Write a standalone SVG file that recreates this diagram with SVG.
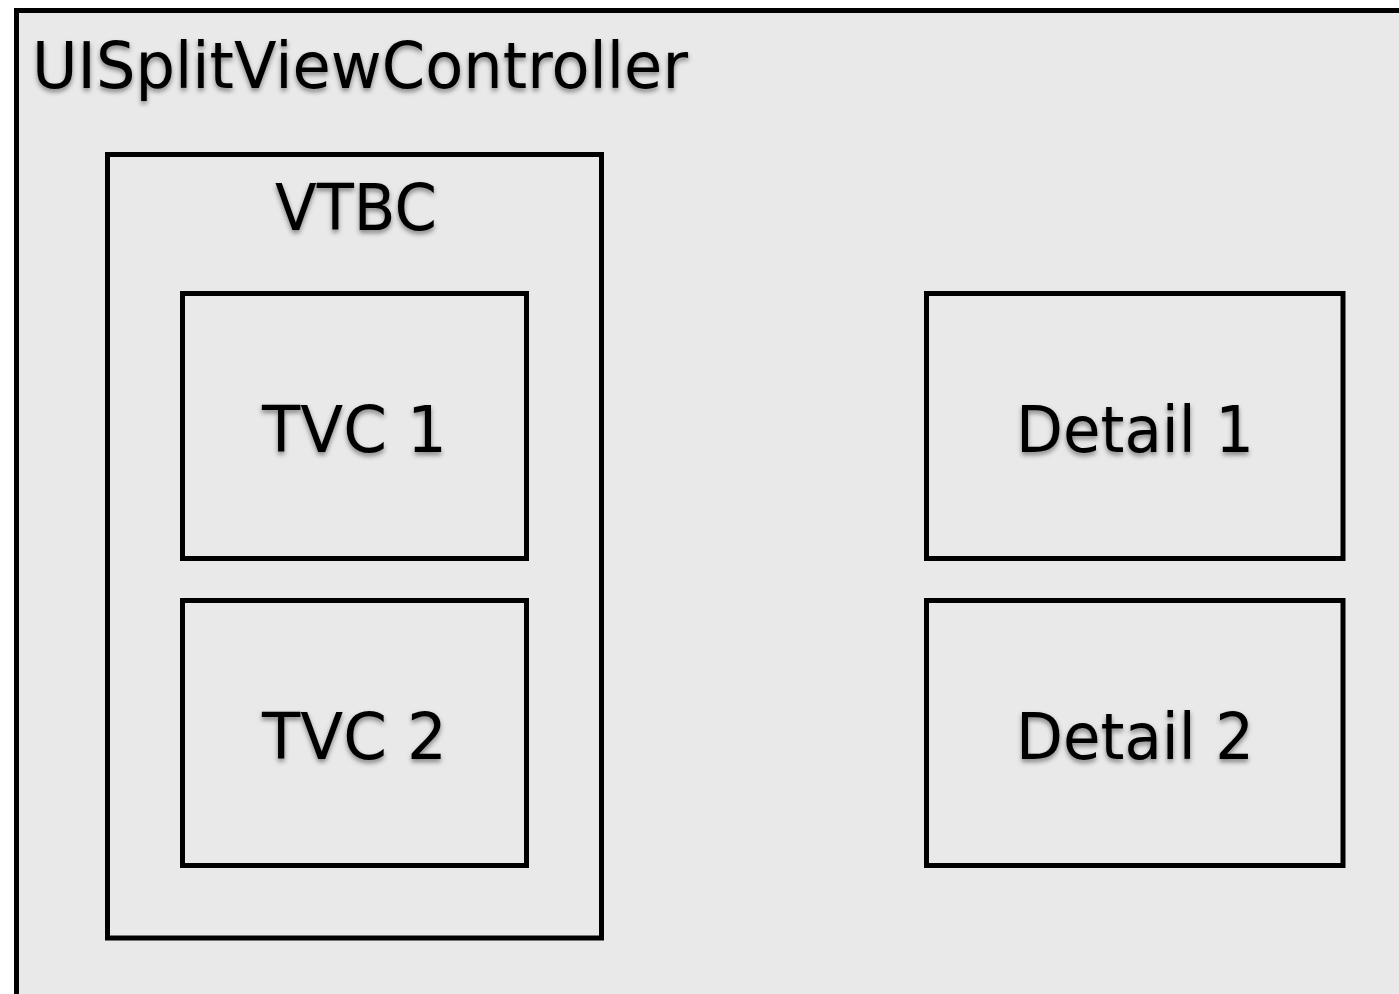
<svg xmlns="http://www.w3.org/2000/svg" width="1399" height="994" viewBox="0 0 1399 994">
<defs>
<filter id="sh" x="-10%" y="-30%" width="120%" height="160%">
<feDropShadow dx="0" dy="3" stdDeviation="2.5" flood-color="#000" flood-opacity="0.45"/>
</filter>
<style>
.box{fill:none;stroke:#000;stroke-width:5}
.t{font-family:"DejaVu Sans","Liberation Sans",sans-serif;font-size:64px;fill:#000;filter:url(#sh)}
</style>
</defs>
<rect x="0" y="0" width="1399" height="994" fill="#fff"/>
<g id="split">
<rect x="16.5" y="10.5" width="1400" height="1000" fill="#e9e9e9" stroke="#000" stroke-width="5"/>
<text class="t" x="32" y="88" textLength="656" lengthAdjust="spacingAndGlyphs">UISplitViewController</text>
</g>
<g id="vtbc">
<rect class="box" x="107.5" y="154.5" width="494" height="783.5"/>
<text class="t" x="275" y="230" textLength="162" lengthAdjust="spacingAndGlyphs">VTBC</text>
</g>
<g id="tvc1">
<rect class="box" x="182.5" y="293.5" width="344" height="265"/>
<text class="t" x="262" y="452" textLength="185" lengthAdjust="spacingAndGlyphs">TVC 1</text>
</g>
<g id="tvc2">
<rect class="box" x="182.5" y="600.5" width="344" height="265"/>
<text class="t" x="262" y="759" textLength="185" lengthAdjust="spacingAndGlyphs">TVC 2</text>
</g>
<g id="detail1">
<rect class="box" x="926.5" y="293.5" width="416.5" height="265"/>
<text class="t" x="1016" y="452" textLength="238" lengthAdjust="spacingAndGlyphs">Detail 1</text>
</g>
<g id="detail2">
<rect class="box" x="926.5" y="600.5" width="416.5" height="265"/>
<text class="t" x="1016" y="759" textLength="238" lengthAdjust="spacingAndGlyphs">Detail 2</text>
</g>
<g id="connectors"></g>
</svg>
